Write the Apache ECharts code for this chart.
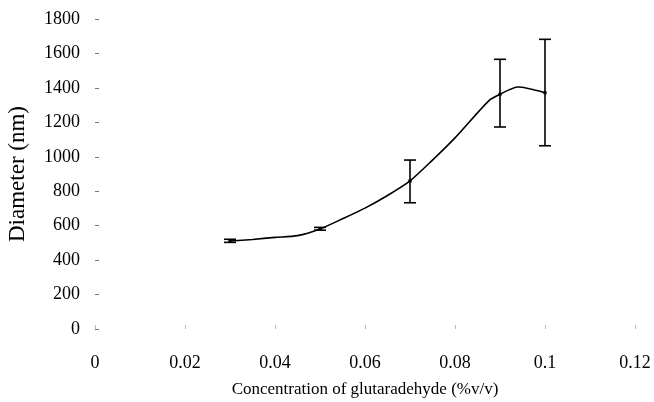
<!DOCTYPE html>
<html>
<head>
<meta charset="utf-8">
<script src="https://cdn.jsdelivr.net/npm/echarts@6/dist/echarts.min.js"></script>
<style>
  html, body { margin: 0; padding: 0; background: #fff; }
  #chart { width: 654px; height: 402px; }
</style>
</head>
<body>
<div id="chart"></div>
<script>
// measured points with error bars
var conc = [0.03, 0.05, 0.07, 0.09, 0.1];
var diameter = [511, 581, 860, 1363, 1372];
var errLow = [503, 574, 733, 1173, 1064];
var errHigh = [521, 590, 981, 1566, 1682];

// points
var curveX = [0.03, 0.035, 0.04, 0.045, 0.05, 0.055, 0.06, 0.065, 0.07, 0.075, 0.08, 0.0875, 0.09, 0.094, 0.1];
var curveY = [511, 520, 532, 542, 581, 640, 702, 775, 860, 981, 1110, 1325, 1363, 1405, 1372];

var font = 'Liberation Serif';

var chart = echarts.init(document.getElementById('chart'));

var option = {
  animation: false,
  grid: { left: 95, right: 19, top: 19, bottom: 73, outerBoundsMode: 'none' },
  xAxis: {
    type: 'value',
    min: 0, max: 0.12, interval: 0.02,
    name: 'Concentration of glutaradehyde (%v/v)',
    nameLocation: 'middle',
    nameGap: 52,
    nameTextStyle: { fontFamily: font, fontSize: 17, color: '#000' },
    axisLine: { show: false },
    axisTick: { show: true, length: 4, inside: true, lineStyle: { color: '#bbb' } },
    splitLine: { show: false },
    axisLabel: {
      fontFamily: font, fontSize: 18, color: '#000', margin: 25,
      formatter: function (v) { return String(Math.round(v * 100) / 100); }
    }
  },
  yAxis: {
    type: 'value',
    min: 0, max: 1800, interval: 200,
    name: 'Diameter (nm)',
    nameLocation: 'middle',
    nameGap: 66,
    nameTextStyle: { fontFamily: font, fontSize: 23, color: '#000' },
    axisLine: { show: false },
    axisTick: { show: true, length: 4, inside: true, lineStyle: { color: '#777' } },
    splitLine: { show: false },
    axisLabel: {
      fontFamily: font, fontSize: 18, color: '#000', margin: 15,
      formatter: function (v) { return String(v); }
    }
  },
  series: [
    {
      type: 'line',
      data: curveX.map(function (x, i) { return [x, curveY[i]]; }),
      smooth: 0.25,
      showSymbol: false,
      lineStyle: { color: '#000', width: 1.6 }
    },
    {
      type: 'scatter',
      data: conc.map(function (x, i) { return [x, diameter[i]]; }),
      symbolSize: 4,
      itemStyle: { color: '#000' }
    },
    {
      type: 'custom',
      data: conc.map(function (x, i) { return [x, errLow[i], errHigh[i]]; }),
      renderItem: function (params, api) {
        var lo = api.coord([api.value(0), api.value(1)]);
        var hi = api.coord([api.value(0), api.value(2)]);
        var w = 6;
        var st = { stroke: '#000', lineWidth: 1.6 };
        return {
          type: 'group',
          children: [
            { type: 'line', shape: { x1: lo[0], y1: lo[1], x2: hi[0], y2: hi[1] }, style: st },
            { type: 'line', shape: { x1: lo[0] - w, y1: lo[1], x2: lo[0] + w, y2: lo[1] }, style: st },
            { type: 'line', shape: { x1: hi[0] - w, y1: hi[1], x2: hi[0] + w, y2: hi[1] }, style: st }
          ]
        };
      },
      z: 3
    }
  ]
};

chart.setOption(option);
</script>
</body>
</html>
